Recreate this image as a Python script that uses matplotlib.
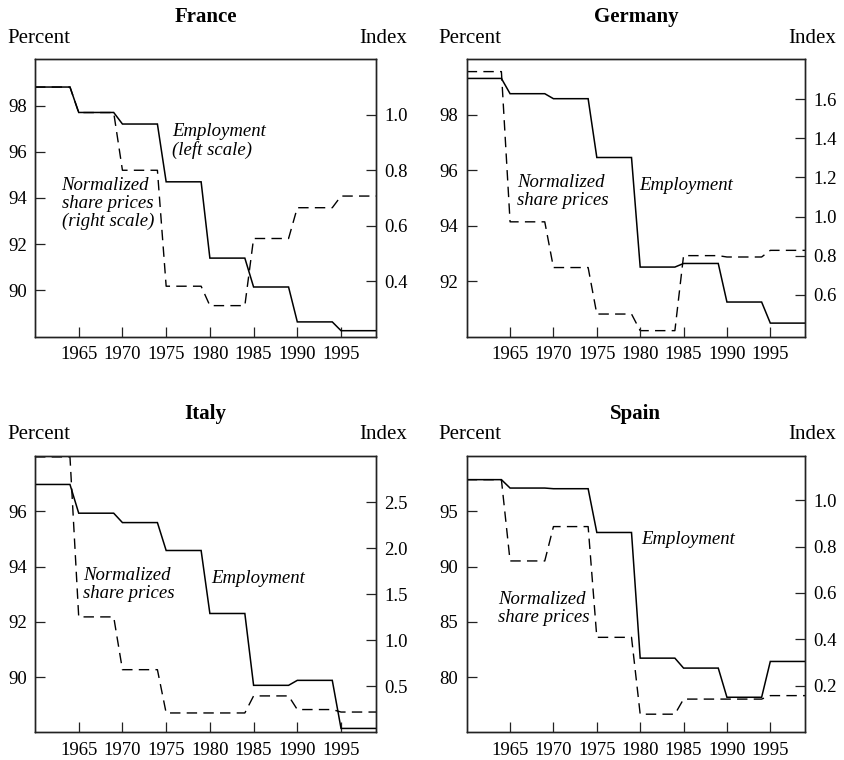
import matplotlib
matplotlib.use("Agg")
import matplotlib.pyplot as plt

plt.rcParams['font.family'] = ['Liberation Serif', 'DejaVu Serif']

period_starts = [1960, 1965, 1970, 1975, 1980, 1985, 1990, 1995]
period_len = 4  # each five-year average spans start..start+4

france_emp = [98.8, 97.7, 97.2, 94.7, 91.4, 90.15, 88.64, 88.26]
france_shr = [1.10, 1.008, 0.80, 0.382, 0.312, 0.554, 0.665, 0.707]

germany_emp = [99.31, 98.76, 98.58, 96.46, 92.51, 92.64, 91.25, 90.49]
germany_shr = [1.742, 0.973, 0.739, 0.501, 0.416, 0.80, 0.793, 0.827]

italy_emp = [96.97, 95.93, 95.59, 94.58, 92.30, 89.70, 89.88, 88.14]
italy_shr = [2.99, 1.253, 0.68, 0.21, 0.21, 0.395, 0.247, 0.22]

spain_emp = [97.86, 97.10, 97.04, 93.08, 81.71, 80.81, 78.17, 81.41]
spain_shr = [1.088, 0.738, 0.886, 0.409, 0.078, 0.143, 0.143, 0.158]

x_ticks = [1965, 1970, 1975, 1980, 1985, 1990, 1995]

panels = [
    dict(name="France", emp=france_emp, shr=france_shr,
         ylim=(88, 100), y2lim=(0.2, 1.2),
         yt=[90, 92, 94, 96, 98], y2t=[0.4, 0.6, 0.8, 1.0],
         rect=[35, 59.3, 376, 336.7],
         emp_txt="Employment\n(left scale)", emp_pos=(0.401, 0.772),
         shr_txt="Normalized\nshare prices\n(right scale)", shr_pos=(0.078, 0.576)),
    dict(name="Germany", emp=germany_emp, shr=germany_shr,
         ylim=(90, 100), y2lim=(0.385, 1.805),
         yt=[92, 94, 96, 98], y2t=[0.6, 0.8, 1.0, 1.2, 1.4, 1.6],
         rect=[466.7, 59.3, 805, 336.7],
         emp_txt="Employment", emp_pos=(0.509, 0.575),
         shr_txt="Normalized\nshare prices", shr_pos=(0.148, 0.586)),
    dict(name="Italy", emp=italy_emp, shr=italy_shr,
         ylim=(88, 98), y2lim=(0.0, 3.0),
         yt=[90, 92, 94, 96], y2t=[0.5, 1.0, 1.5, 2.0, 2.5],
         rect=[35, 456, 376, 732.3],
         emp_txt="Employment", emp_pos=(0.518, 0.589),
         shr_txt="Normalized\nshare prices", shr_pos=(0.14, 0.598)),
    dict(name="Spain", emp=spain_emp, shr=spain_shr,
         ylim=(75, 100), y2lim=(0.0, 1.19),
         yt=[80, 85, 90, 95], y2t=[0.2, 0.4, 0.6, 0.8, 1.0],
         rect=[466.7, 456, 805, 732.3],
         emp_txt="Employment", emp_pos=(0.517, 0.73),
         shr_txt="Normalized\nshare prices", shr_pos=(0.092, 0.513)),
]

W, H = 845, 760
fig = plt.figure(figsize=(W / 100, H / 100), dpi=100)


def step_xy(vals):
    xs, ys = [], []
    for s, v in zip(period_starts, vals):
        xs += [s, s + period_len]
        ys += [v, v]
    return xs, ys


for p in panels:
    l, t, r, b = p["rect"]
    ax = fig.add_axes([l / W, 1 - b / H, (r - l) / W, (b - t) / H])
    ax2 = ax.twinx()
    ax.set_zorder(ax2.get_zorder() + 1)
    ax.patch.set_visible(False)

    xs, ys = step_xy(p["emp"])
    ax.plot(xs, ys, color="black", lw=1.1, solid_joinstyle="miter")
    xs2, ys2 = step_xy(p["shr"])
    ax2.plot(xs2, ys2, color="black", lw=1.0, linestyle=(0, (7.5, 4.5)))

    ax.set_xlim(1960, 1999)
    ax.set_ylim(*p["ylim"])
    ax2.set_ylim(*p["y2lim"])
    ax.set_xticks(x_ticks)
    ax.set_xticklabels([str(v) for v in x_ticks])
    ax.set_yticks(p["yt"])
    ax.set_yticklabels([str(v) for v in p["yt"]])
    ax2.set_yticks(p["y2t"])
    ax2.set_yticklabels(["%.1f" % v for v in p["y2t"]])

    for a in (ax, ax2):
        a.tick_params(direction="in", length=7, width=0.9, labelsize=13.5,
                      pad=6, color="#222222")
        for sp in a.spines.values():
            sp.set_linewidth(1.0)
            sp.set_color("#222222")
    ax.tick_params(axis="x", pad=7)

    cx = (l + r) / 2 / W
    fig.text(cx, 1 - (t - 42) / H, p["name"], ha="center", va="center",
             fontsize=15, fontweight="bold")
    fig.text((l - 28) / W, 1 - (t - 21) / H, "Percent", ha="left", va="center",
             fontsize=15)
    fig.text((r + 31.5) / W, 1 - (t - 21) / H, "Index", ha="right", va="center",
             fontsize=15)

    ax.text(p["emp_pos"][0], p["emp_pos"][1], p["emp_txt"], transform=ax.transAxes,
            ha="left", va="top", fontsize=13.5, style="italic", linespacing=1.08)
    ax.text(p["shr_pos"][0], p["shr_pos"][1], p["shr_txt"], transform=ax.transAxes,
            ha="left", va="top", fontsize=13.5, style="italic", linespacing=1.08)

fig.savefig("out.png", dpi=100)
